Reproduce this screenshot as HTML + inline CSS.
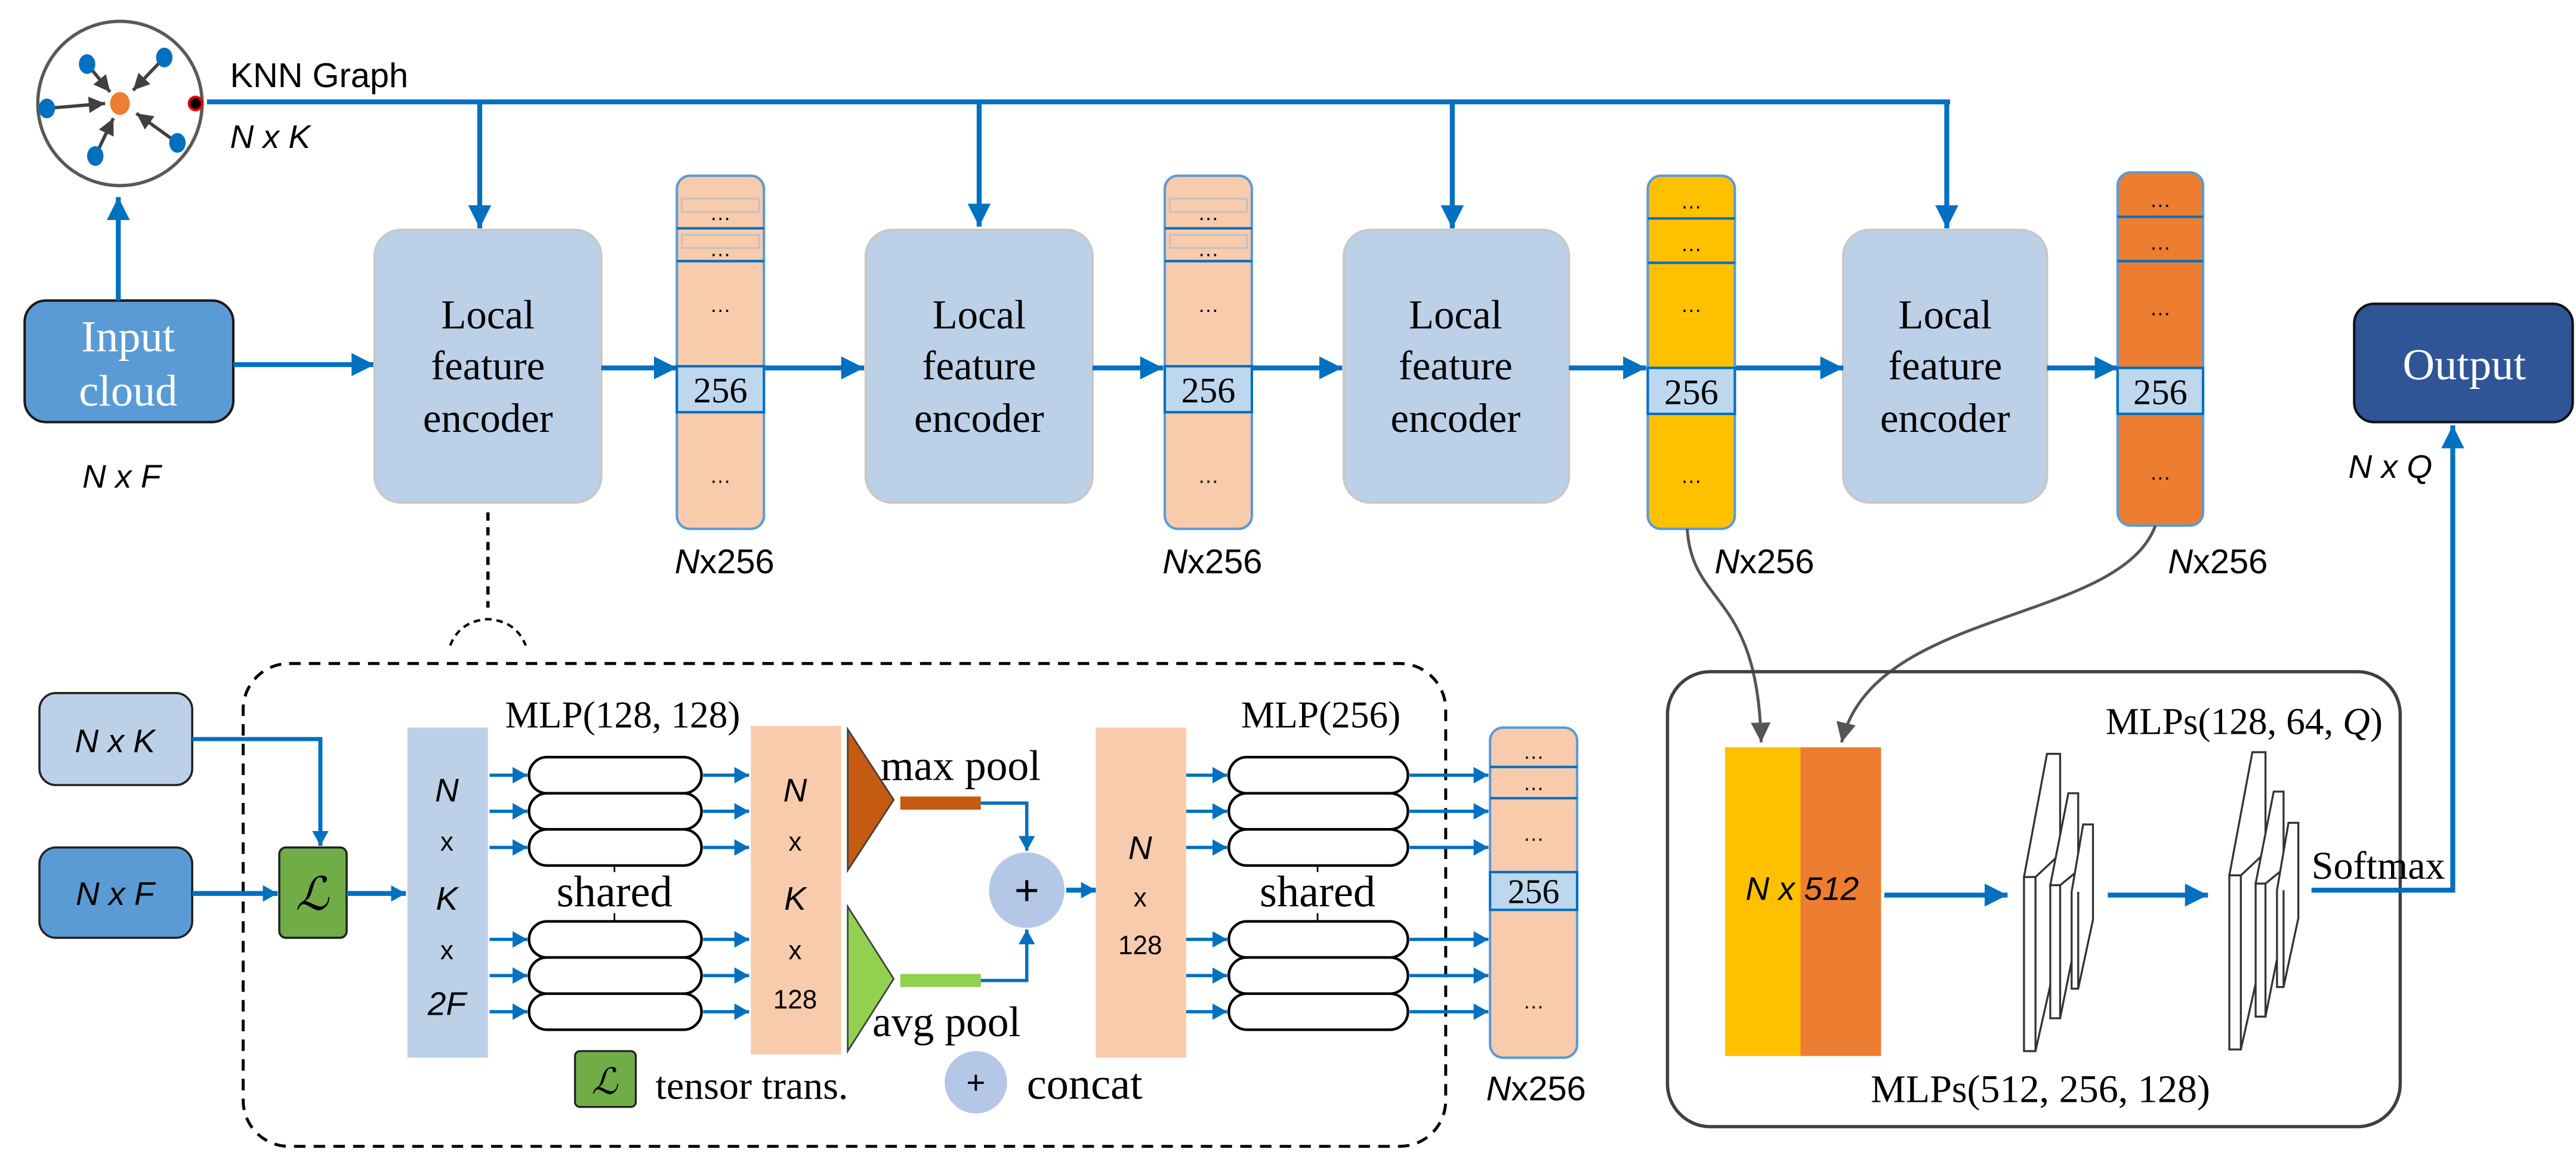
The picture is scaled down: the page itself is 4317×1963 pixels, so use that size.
<!DOCTYPE html>
<html><head><meta charset="utf-8">
<style>
html,body{margin:0;padding:0;background:#fff;}
svg{display:block;}
.serif{font-family:"Liberation Serif",serif;}
.sans{font-family:"Liberation Sans",sans-serif;}
</style></head>
<body>
<svg width="4317" height="1963" viewBox="0 0 1568 713" xmlns="http://www.w3.org/2000/svg">
<defs>
<marker id="ab" markerUnits="userSpaceOnUse" markerWidth="20" markerHeight="20" refX="14" refY="7" orient="auto"><path d="M0,0 L14,7 L0,14 z" fill="#0070c0"/></marker>
<marker id="as" markerUnits="userSpaceOnUse" markerWidth="14" markerHeight="14" refX="9" refY="5" orient="auto"><path d="M0,0 L9,5 L0,10 z" fill="#0070c0"/></marker>
<marker id="ag" markerUnits="userSpaceOnUse" markerWidth="14" markerHeight="14" refX="10" refY="5" orient="auto"><path d="M0,0 L10,5 L0,10 z" fill="#404040"/></marker>
<marker id="ag2" markerUnits="userSpaceOnUse" markerWidth="14" markerHeight="14" refX="12" refY="6" orient="auto"><path d="M0,0 L12,6 L0,12 z" fill="#555"/></marker>
</defs>

<!-- KNN circle -->
<circle cx="73" cy="63" r="50" fill="#fff" stroke="#595959" stroke-width="2"/>
<g stroke="#404040" stroke-width="2" fill="none">
<line x1="53" y1="39" x2="67" y2="56" marker-end="url(#ag)"/>
<line x1="100" y1="35" x2="81" y2="55" marker-end="url(#ag)"/>
<line x1="28" y1="66" x2="64" y2="63" marker-end="url(#ag)"/>
<line x1="108" y1="87" x2="83" y2="69" marker-end="url(#ag)"/>
<line x1="58" y1="95" x2="69" y2="72" marker-end="url(#ag)"/>
</g>
<g fill="#0070c0">
<ellipse cx="53" cy="39" rx="5" ry="6"/><ellipse cx="100" cy="35" rx="5" ry="6"/>
<ellipse cx="28.5" cy="66" rx="5" ry="6"/><ellipse cx="108" cy="87" rx="5" ry="6"/>
<ellipse cx="58" cy="95" rx="5" ry="6"/>
</g>
<ellipse cx="73" cy="63" rx="6" ry="7" fill="#ed7d31"/>
<circle cx="119" cy="63" r="4" fill="#000" stroke="#e00" stroke-width="1.5"/>
<text x="140" y="53" class="sans" font-size="21">KNN Graph</text>
<text x="140" y="90" class="sans" font-size="20" font-style="italic">N x K</text>

<!-- KNN line -->
<line x1="126" y1="62" x2="1187" y2="62" stroke="#0070c0" stroke-width="3"/>
<g stroke="#0070c0" stroke-width="3">
<line x1="292" y1="61" x2="292" y2="139" marker-end="url(#ab)"/>
<line x1="596" y1="61" x2="596" y2="138" marker-end="url(#ab)"/>
<line x1="884" y1="61" x2="884" y2="139" marker-end="url(#ab)"/>
<line x1="1185" y1="61" x2="1185" y2="139" marker-end="url(#ab)"/>
</g>

<!-- Input cloud -->
<rect x="15" y="183" width="127" height="74" rx="13" fill="#5b9bd5" stroke="#1a1a1a" stroke-width="1.5"/>
<text x="78" y="214" text-anchor="middle" class="serif" font-size="27" fill="#fff">Input</text>
<text x="78" y="247" text-anchor="middle" class="serif" font-size="27" fill="#fff">cloud</text>
<line x1="72" y1="183" x2="72" y2="120" stroke="#0070c0" stroke-width="3" marker-end="url(#ab)"/>
<text x="74" y="297" text-anchor="middle" class="sans" font-size="20" font-style="italic">N x F</text>
<line x1="142" y1="222" x2="228" y2="222" stroke="#0070c0" stroke-width="3" marker-end="url(#ab)"/>

<!-- Encoders -->
<g fill="#bcd0e8" stroke="#c8c8c8" stroke-width="1.5">
<rect x="228" y="140" width="138" height="166" rx="16"/>
<rect x="527" y="140" width="138" height="166" rx="16"/>
<rect x="818" y="140" width="137" height="166" rx="16"/>
<rect x="1122" y="140" width="124" height="166" rx="16"/>
</g>
<g class="serif" font-size="25" text-anchor="middle">
<text x="297" y="200">Local</text><text x="297" y="231">feature</text><text x="297" y="263">encoder</text>
<text x="596" y="200">Local</text><text x="596" y="231">feature</text><text x="596" y="263">encoder</text>
<text x="886" y="200">Local</text><text x="886" y="231">feature</text><text x="886" y="263">encoder</text>
<text x="1184" y="200">Local</text><text x="1184" y="231">feature</text><text x="1184" y="263">encoder</text>
</g>
<g stroke="#0070c0" stroke-width="3">
<line x1="366" y1="224" x2="412" y2="224" marker-end="url(#ab)"/>
<line x1="465" y1="224" x2="526" y2="224" marker-end="url(#ab)"/>
<line x1="665" y1="224" x2="708" y2="224" marker-end="url(#ab)"/>
<line x1="762" y1="224" x2="817" y2="224" marker-end="url(#ab)"/>
<line x1="955" y1="224" x2="1002" y2="224" marker-end="url(#ab)"/>
<line x1="1056" y1="224" x2="1122" y2="224" marker-end="url(#ab)"/>
<line x1="1246" y1="224" x2="1289" y2="224" marker-end="url(#ab)"/>
</g>

<!-- Columns -->
<g stroke="#5b9bd5" stroke-width="1.5">
<rect x="412" y="107" width="53" height="215" rx="8" fill="#f8cbad"/>
<rect x="709" y="107" width="53" height="215" rx="8" fill="#f8cbad"/>
<rect x="1003" y="107" width="53" height="215" rx="8" fill="#ffc000"/>
<rect x="1289" y="105" width="52" height="215" rx="8" fill="#ed7d31"/>
</g>
<g stroke="#0070c0" stroke-width="1.5">
<line x1="412" y1="139" x2="465" y2="139"/><line x1="412" y1="159" x2="465" y2="159"/>
<line x1="709" y1="139" x2="762" y2="139"/><line x1="709" y1="159" x2="762" y2="159"/>
<line x1="1003" y1="133" x2="1056" y2="133"/><line x1="1003" y1="160" x2="1056" y2="160"/>
<line x1="1289" y1="132" x2="1341" y2="132"/><line x1="1289" y1="159" x2="1341" y2="159"/>
</g>
<g fill="none" stroke="#c0c0c0" stroke-width="1">
<rect x="415" y="121" width="47" height="8"/><rect x="415" y="143" width="47" height="8"/>
<rect x="712" y="121" width="47" height="8"/><rect x="712" y="143" width="47" height="8"/>
</g>
<g fill="#bdd7ee" stroke="#0070c0" stroke-width="1.5">
<rect x="412" y="223" width="53" height="28"/>
<rect x="709" y="223" width="53" height="28"/>
<rect x="1003" y="224" width="53" height="28"/>
<rect x="1289" y="224" width="52" height="28"/>
</g>
<g class="serif" font-size="22" text-anchor="middle">
<text x="438.5" y="245">256</text><text x="735.5" y="245">256</text>
<text x="1029.5" y="246">256</text><text x="1315" y="246">256</text>
</g>
<g class="sans" font-size="13" text-anchor="middle">
<text x="438.5" y="134">…</text><text x="438.5" y="156">…</text><text x="438.5" y="190">…</text><text x="438.5" y="294">…</text>
<text x="735.5" y="134">…</text><text x="735.5" y="156">…</text><text x="735.5" y="190">…</text><text x="735.5" y="294">…</text>
<text x="1029.5" y="127">…</text><text x="1029.5" y="153">…</text><text x="1029.5" y="190">…</text><text x="1029.5" y="294">…</text>
<text x="1315" y="126">…</text><text x="1315" y="152">…</text><text x="1315" y="192">…</text><text x="1315" y="292">…</text>
</g>
<g class="sans" font-size="21" text-anchor="middle">
<text x="441" y="349"><tspan font-style="italic">N</tspan>x256</text>
<text x="738" y="349"><tspan font-style="italic">N</tspan>x256</text>
<text x="1074" y="349"><tspan font-style="italic">N</tspan>x256</text>
<text x="1350" y="349"><tspan font-style="italic">N</tspan>x256</text>
</g>

<!-- Output -->
<rect x="1433" y="185" width="133" height="72" rx="12" fill="#2f5597" stroke="#111" stroke-width="1.5"/>
<text x="1500" y="231" text-anchor="middle" class="serif" font-size="27" fill="#fff">Output</text>
<text x="1455" y="291" text-anchor="middle" class="sans" font-size="20" font-style="italic">N x Q</text>

<!-- gray curves -->
<path d="M1027,322 C1030,370 1070,360 1072,452" fill="none" stroke="#555" stroke-width="1.8" marker-end="url(#ag2)"/>
<path d="M1312,320 C1290,380 1140,370 1121,452" fill="none" stroke="#555" stroke-width="1.8" marker-end="url(#ag2)"/>

<!-- dashed brace -->
<line x1="297" y1="312" x2="297" y2="370" stroke="#000" stroke-width="2" stroke-dasharray="5,4"/>
<path d="M274,393 Q280,378 297,377 Q314,378 320,393" fill="none" stroke="#000" stroke-width="1.5" stroke-dasharray="4,3"/>

<!-- dashed box -->
<rect x="148" y="404" width="732" height="294" rx="28" fill="none" stroke="#000" stroke-width="1.8" stroke-dasharray="7,5"/>

<!-- NxK NxF -->
<rect x="24" y="422" width="93" height="56" rx="10" fill="#bcd0e8" stroke="#222" stroke-width="1.3"/>
<text x="70" y="458" text-anchor="middle" class="sans" font-size="20" font-style="italic">N x K</text>
<rect x="24" y="516" width="93" height="55" rx="10" fill="#5b9bd5" stroke="#222" stroke-width="1.3"/>
<text x="70" y="551" text-anchor="middle" class="sans" font-size="20" font-style="italic">N x F</text>
<rect x="170" y="516" width="41" height="55" rx="4" fill="#70ad47" stroke="#222" stroke-width="1.3"/>
<text x="190" y="554" text-anchor="middle" class="serif" font-size="28" font-style="italic">ℒ</text>
<polyline points="117,450 195,450 195,515" fill="none" stroke="#0070c0" stroke-width="2.5" marker-end="url(#as)"/>
<line x1="117" y1="544" x2="169" y2="544" stroke="#0070c0" stroke-width="3" marker-end="url(#as)"/>
<line x1="211" y1="544" x2="247" y2="544" stroke="#0070c0" stroke-width="3" marker-end="url(#as)"/>

<!-- column 2F -->
<rect x="248" y="443" width="49" height="201" fill="#bcd0e8"/>
<g class="sans" font-size="20" text-anchor="middle" font-style="italic">
<text x="272" y="488">N</text><text x="272" y="554">K</text><text x="272" y="618">2F</text>
</g>
<g class="sans" font-size="16" text-anchor="middle">
<text x="272" y="518">x</text><text x="272" y="584">x</text>
</g>

<text x="379" y="443" text-anchor="middle" class="serif" font-size="23">MLP(128, 128)</text>
<g fill="#fff" stroke="#000" stroke-width="1.6">
<rect x="322" y="461" width="105" height="22" rx="11"/>
<rect x="322" y="483" width="105" height="22" rx="11"/>
<rect x="322" y="505" width="105" height="22" rx="11"/>
<rect x="322" y="561" width="105" height="22" rx="11"/>
<rect x="322" y="583" width="105" height="22" rx="11"/>
<rect x="322" y="605" width="105" height="22" rx="11"/>
<rect x="748" y="461" width="109" height="22" rx="11"/>
<rect x="748" y="483" width="109" height="22" rx="11"/>
<rect x="748" y="505" width="109" height="22" rx="11"/>
<rect x="748" y="561" width="109" height="22" rx="11"/>
<rect x="748" y="583" width="109" height="22" rx="11"/>
<rect x="748" y="605" width="109" height="22" rx="11"/>
</g>
<g stroke="#000" stroke-width="1">
<line x1="374" y1="527" x2="374" y2="531"/><line x1="374" y1="556" x2="374" y2="561"/>
<line x1="802" y1="527" x2="802" y2="531"/><line x1="802" y1="556" x2="802" y2="561"/>
</g>
<g class="serif" font-size="27" text-anchor="middle">
<text x="374" y="552">shared</text><text x="802" y="552">shared</text>
</g>
<g stroke="#0070c0" stroke-width="2">
<line x1="298" y1="472" x2="321" y2="472" marker-end="url(#as)"/>
<line x1="298" y1="494" x2="321" y2="494" marker-end="url(#as)"/>
<line x1="298" y1="516" x2="321" y2="516" marker-end="url(#as)"/>
<line x1="298" y1="572" x2="321" y2="572" marker-end="url(#as)"/>
<line x1="298" y1="594" x2="321" y2="594" marker-end="url(#as)"/>
<line x1="298" y1="616" x2="321" y2="616" marker-end="url(#as)"/>
<line x1="428" y1="472" x2="456" y2="472" marker-end="url(#as)"/>
<line x1="428" y1="494" x2="456" y2="494" marker-end="url(#as)"/>
<line x1="428" y1="516" x2="456" y2="516" marker-end="url(#as)"/>
<line x1="428" y1="572" x2="456" y2="572" marker-end="url(#as)"/>
<line x1="428" y1="594" x2="456" y2="594" marker-end="url(#as)"/>
<line x1="428" y1="616" x2="456" y2="616" marker-end="url(#as)"/>
<line x1="722" y1="472" x2="747" y2="472" marker-end="url(#as)"/>
<line x1="722" y1="494" x2="747" y2="494" marker-end="url(#as)"/>
<line x1="722" y1="516" x2="747" y2="516" marker-end="url(#as)"/>
<line x1="722" y1="572" x2="747" y2="572" marker-end="url(#as)"/>
<line x1="722" y1="594" x2="747" y2="594" marker-end="url(#as)"/>
<line x1="722" y1="616" x2="747" y2="616" marker-end="url(#as)"/>
<line x1="858" y1="472" x2="906" y2="472" marker-end="url(#as)"/>
<line x1="858" y1="494" x2="906" y2="494" marker-end="url(#as)"/>
<line x1="858" y1="516" x2="906" y2="516" marker-end="url(#as)"/>
<line x1="858" y1="572" x2="906" y2="572" marker-end="url(#as)"/>
<line x1="858" y1="594" x2="906" y2="594" marker-end="url(#as)"/>
<line x1="858" y1="616" x2="906" y2="616" marker-end="url(#as)"/>
</g>

<!-- column NxKx128 -->
<rect x="457" y="442" width="55" height="200" fill="#f8cbad"/>
<g class="sans" font-size="20" text-anchor="middle" font-style="italic">
<text x="484" y="488">N</text><text x="484" y="554">K</text>
</g>
<g class="sans" font-size="16" text-anchor="middle">
<text x="484" y="518">x</text><text x="484" y="584">x</text><text x="484" y="614">128</text>
</g>

<!-- pools -->
<polygon points="516,444 544,487 516,530" fill="#c55a11" stroke="#404040" stroke-width="1"/>
<polygon points="516,552 544,596 516,640" fill="#92d050" stroke="#404040" stroke-width="1"/>
<rect x="548" y="485" width="49" height="8" fill="#c55a11"/>
<rect x="548" y="593" width="49" height="8" fill="#92d050"/>
<text x="536" y="475" class="serif" font-size="26">max pool</text>
<text x="531" y="631" class="serif" font-size="26">avg pool</text>
<polyline points="597,489 625,489 625,518" fill="none" stroke="#0070c0" stroke-width="2" marker-end="url(#as)"/>
<polyline points="597,597 625,597 625,566" fill="none" stroke="#0070c0" stroke-width="2" marker-end="url(#as)"/>
<circle cx="625" cy="542" r="23" fill="#b4c7e7"/>
<text x="625" y="551" text-anchor="middle" class="sans" font-size="26">+</text>
<line x1="649" y1="542" x2="667" y2="542" stroke="#0070c0" stroke-width="3" marker-end="url(#as)"/>

<!-- column Nx128 -->
<rect x="667" y="443" width="55" height="201" fill="#f8cbad"/>
<text x="694" y="523" text-anchor="middle" class="sans" font-size="20" font-style="italic">N</text>
<text x="694" y="552" text-anchor="middle" class="sans" font-size="16">x</text>
<text x="694" y="581" text-anchor="middle" class="sans" font-size="16">128</text>
<text x="804" y="443" text-anchor="middle" class="serif" font-size="23">MLP(256)</text>

<!-- output column bottom -->
<rect x="907" y="443" width="53" height="201" rx="8" fill="#f8cbad" stroke="#5b9bd5" stroke-width="1.5"/>
<line x1="907" y1="467" x2="960" y2="467" stroke="#0070c0" stroke-width="1.5"/>
<line x1="907" y1="486" x2="960" y2="486" stroke="#0070c0" stroke-width="1.5"/>
<rect x="907" y="531" width="53" height="23" fill="#bdd7ee" stroke="#0070c0" stroke-width="1.5"/>
<text x="933.5" y="550" text-anchor="middle" class="serif" font-size="21">256</text>
<g class="sans" font-size="13" text-anchor="middle">
<text x="933.5" y="462">…</text><text x="933.5" y="481">…</text><text x="933.5" y="512">…</text><text x="933.5" y="614">…</text>
</g>
<text x="935" y="670" text-anchor="middle" class="sans" font-size="21"><tspan font-style="italic">N</tspan>x256</text>

<!-- legend -->
<rect x="350" y="640" width="37" height="34" rx="3" fill="#70ad47" stroke="#222" stroke-width="1.2"/>
<text x="368" y="666" text-anchor="middle" class="serif" font-size="22" font-style="italic">ℒ</text>
<text x="399" y="669" class="serif" font-size="24">tensor trans.</text>
<circle cx="594" cy="659" r="19" fill="#b4c7e7"/>
<text x="594" y="666" text-anchor="middle" class="sans" font-size="20">+</text>
<text x="625" y="669" class="serif" font-size="27">concat</text>

<!-- right box -->
<rect x="1015" y="409" width="446" height="277" rx="26" fill="none" stroke="#404040" stroke-width="2"/>
<rect x="1050" y="455" width="47" height="188" fill="#ffc000"/>
<rect x="1096" y="455" width="49" height="188" fill="#ed7d31"/>
<text x="1097" y="548" text-anchor="middle" class="sans" font-size="20" font-style="italic">N x 512</text>
<text x="1366" y="447" text-anchor="middle" class="serif" font-size="23">MLPs(128, 64, <tspan font-style="italic">Q</tspan>)</text>
<text x="1242" y="671" text-anchor="middle" class="serif" font-size="24">MLPs(512, 256, 128)</text>
<line x1="1147" y1="545" x2="1222" y2="545" stroke="#0070c0" stroke-width="3" marker-end="url(#ab)"/>
<line x1="1283" y1="545" x2="1344" y2="545" stroke="#0070c0" stroke-width="3" marker-end="url(#ab)"/>
<g fill="#fff" stroke="#333" stroke-width="1.2">
<g id="stk">
<polygon points="1232,534 1246,459 1254,459 1254,520 1239,534"/>
<rect x="1232" y="534" width="7" height="106"/>
<line x1="1239" y1="640" x2="1248" y2="600"/>
<polygon points="1248,539 1259,483 1265,483 1265,530 1254,539"/>
<rect x="1248" y="539" width="6" height="81"/>
<line x1="1254" y1="620" x2="1261" y2="585"/>
<polygon points="1261,543 1268,502 1274,502 1274,560 1265,602 1261,602"/>
<line x1="1265" y1="543" x2="1265" y2="602"/>
</g>
<use href="#stk" x="125" y="-1"/>
</g>
<text x="1407" y="535" class="serif" font-size="24">Softmax</text>
<polyline points="1407,542 1493,542 1493,259" fill="none" stroke="#0070c0" stroke-width="3" marker-end="url(#ab)"/>
</svg>
</body></html>
